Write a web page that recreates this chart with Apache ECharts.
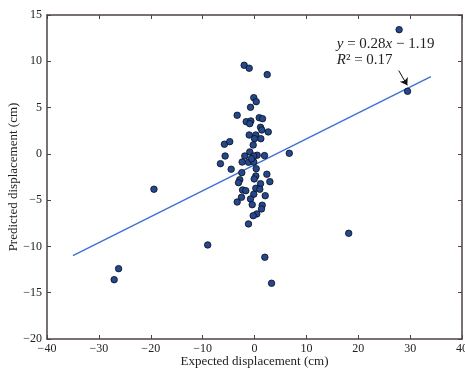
<!DOCTYPE html>
<html>
<head>
<meta charset="utf-8">
<script src="https://cdn.jsdelivr.net/npm/echarts@6/dist/echarts.min.js"></script>
<style>
  html, body { margin: 0; padding: 0; background: #fff; }
  #chart { width: 465px; height: 368px; }
</style>
</head>
<body>
<div id="chart"></div>
<script>
// expected displacement (cm) for each sample
const expectedX = [
  -1.99, -1.02, 2.45, -0.14, 0.33, -0.77, -3.34, -1.60, -0.71, -0.91,
  0.91, 1.55, 1.16, 1.41, 2.65, -1.02, 0.25, 0.00, 1.22, -5.80,
  -4.77, -0.25, -5.66, -6.57, -4.50, -1.87, -0.91, 0.52, -0.14, 1.93,
  -2.38, -1.16, -0.14, -0.58, 0.33, 6.71, -2.45, 0.25, -0.06, -2.84,
  -3.09, 2.38, 2.96, 1.16, 0.25, 1.02, -2.30, -1.68, -0.14, 2.07,
  -2.51, -0.77, -3.34, -0.44, 1.49, 1.35, 0.44, -0.25, -1.16, -9.02,
  -19.38, 1.99, 3.29, 18.16, -26.2, -27.05, 27.88, 29.5
];
// predicted displacement (cm)
const predictedY = [
  9.57, 9.25, 8.56, 6.07, 5.64, 5.03, 4.17, 3.48, 3.55, 3.26,
  3.91, 3.80, 2.87, 2.58, 2.37, 2.04, 2.04, 1.64, 1.64, 1.04,
  1.32, 0.96, -0.23, -1.06, -1.66, -0.23, 0.21, -0.15, -0.23, -0.19,
  -0.88, -0.91, -0.88, -0.52, -1.60, 0.06, -2.03, -2.39, -2.71, -2.79,
  -3.11, -2.20, -3.00, -3.22, -3.72, -3.82, -3.90, -3.98, -4.36, -4.52,
  -4.69, -4.87, -5.20, -5.49, -5.55, -5.95, -6.49, -6.68, -7.57, -9.84,
  -3.82, -11.17, -13.98, -8.58, -12.4, -13.59, 13.42, 6.76
];

// fitted line end points
const fitX = [-35, 34];
const fitY = [-10.99, 8.33];

// annotation arrow: tail and head
const arrowFrom = [27.8, 9.0];
const arrowTo = [29.45, 7.4];
const labelAt = [15.85, 11.0];

const xTicks = { min: -40, max: 40, interval: 10 };
const yTicks = { min: -20, max: 15, interval: 5 };

const serif = "'Liberation Serif', 'DejaVu Serif', serif";
const frameColor = "#4d4343";
const minus = (v) => String(v).replace("-", "\u2212");

const chart = echarts.init(document.getElementById("chart"));

const frameAxis = (extra) => Object.assign({
  type: "value",
  axisLine: { show: true, onZero: false, lineStyle: { color: frameColor, width: 1.5 } },
  axisTick: { show: true, inside: true, length: 4, lineStyle: { color: frameColor, width: 1 } },
  splitLine: { show: false },
}, extra);

chart.setOption({
  backgroundColor: "#ffffff",
  animation: false,
  grid: { left: 47, right: 3, top: 15, bottom: 29, containLabel: false, outerBoundsMode: "none" },
  xAxis: [
    frameAxis({
      position: "bottom",
      min: xTicks.min, max: xTicks.max, interval: xTicks.interval,
      name: "Expected displacement (cm)",
      nameLocation: "middle",
      nameGap: 16,
      nameMoveOverlap: false,
      nameTextStyle: { fontFamily: serif, fontSize: 13, color: "#222" },
      axisLabel: { margin: 4, fontFamily: serif, fontSize: 12, color: "#222", formatter: minus },
    }),
    frameAxis({
      position: "top",
      min: xTicks.min, max: xTicks.max, interval: xTicks.interval,
      axisLabel: { show: false },
    }),
  ],
  yAxis: [
    frameAxis({
      position: "left",
      min: yTicks.min, max: yTicks.max, interval: yTicks.interval,
      name: "Predicted displacement (cm)",
      nameLocation: "middle",
      nameGap: 27,
      nameMoveOverlap: false,
      nameTextStyle: { fontFamily: serif, fontSize: 13, color: "#222" },
      axisLabel: { margin: 5, fontFamily: serif, fontSize: 12, color: "#222", formatter: minus },
    }),
    frameAxis({
      position: "right",
      min: yTicks.min, max: yTicks.max, interval: yTicks.interval,
      axisLabel: { show: false },
    }),
  ],
  series: [
    {
      type: "line",
      data: fitX.map((x, i) => [x, fitY[i]]),
      showSymbol: false,
      lineStyle: { color: "#3f6fd6", width: 1.4 },
      z: 2,
      markLine: {
        silent: true,
        symbol: ["none", "arrow"],
        symbolSize: 7,
        label: { show: false },
        lineStyle: { color: "#111", width: 1, type: "solid" },
        data: [[{ coord: arrowFrom }, { coord: arrowTo }]],
      },
      markPoint: {
        silent: true,
        symbol: "rect",
        symbolSize: 0,
        data: [{ coord: labelAt }],
        label: {
          show: true,
          position: "inside",
          align: "left",
          verticalAlign: "middle",
          fontFamily: serif,
          fontSize: 15,
          lineHeight: 16,
          color: "#222",
          formatter: "{i|y} = 0.28{i|x} \u2212 1.19\n{i|R}\u00b2 = 0.17",
          rich: {
            i: { fontFamily: serif, fontSize: 15, fontStyle: "italic", color: "#222" },
          },
        },
      },
    },
    {
      type: "scatter",
      data: expectedX.map((x, i) => [x, predictedY[i]]),
      symbolSize: 6.5,
      itemStyle: { color: "#24498a", borderColor: "#0b0b1e", borderWidth: 0.8, opacity: 1 },
      z: 3,
    },
  ],
});
</script>
</body>
</html>
